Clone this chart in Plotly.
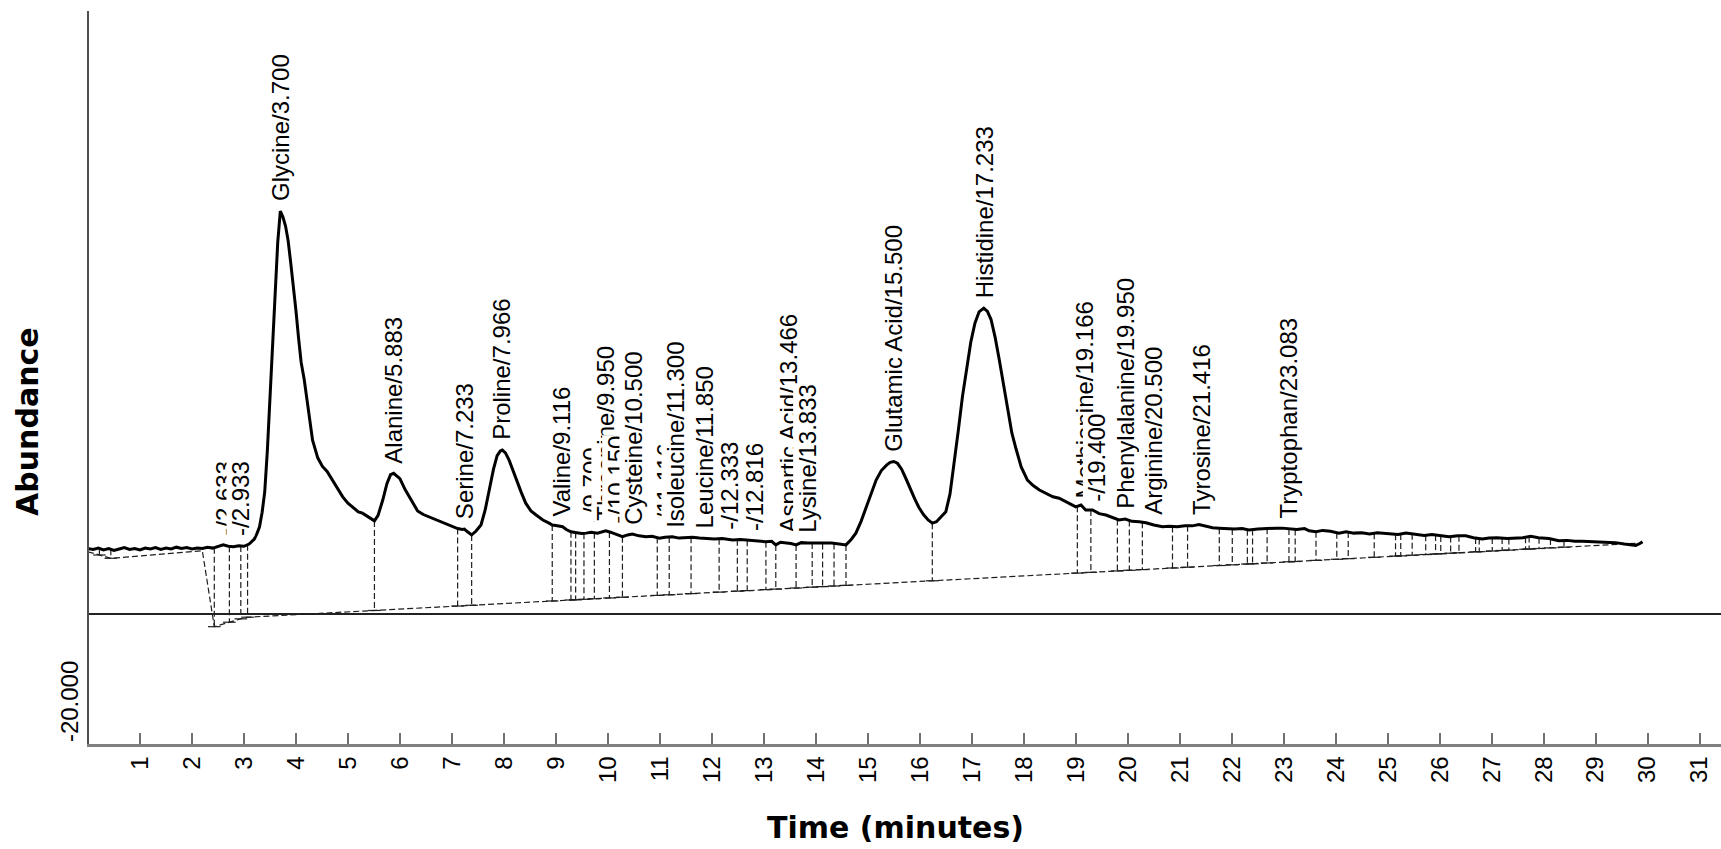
import numpy as np
import plotly.graph_objects as go

# ---- chromatogram trace (retention time in minutes, detector abundance) ----
time_min = [
    0.00, 0.10, 0.20, 0.30, 0.40, 0.50, 0.60, 0.70, 0.80, 0.90,
    1.00, 1.10, 1.20, 1.30, 1.40, 1.50, 1.60, 1.70, 1.80, 1.90,
    2.00, 2.10, 2.20, 2.30, 2.40, 2.50, 2.60, 2.70, 2.80, 2.90,
    3.00, 3.10, 3.20, 3.25, 3.30, 3.35, 3.40, 3.45, 3.50, 3.55,
    3.60, 3.65, 3.70, 3.75, 3.80, 3.85, 3.90, 3.95, 4.00, 4.05,
    4.10, 4.16, 4.22, 4.32, 4.42, 4.51, 4.60, 4.70, 4.80, 4.90,
    5.00, 5.10, 5.20, 5.28, 5.40, 5.51, 5.58, 5.67, 5.75, 5.82,
    5.88, 5.94, 6.00, 6.10, 6.18, 6.26, 6.34, 6.45, 6.56, 6.70,
    6.80, 6.88, 7.00, 7.11, 7.20, 7.24, 7.30, 7.38, 7.46, 7.56,
    7.64, 7.72, 7.80, 7.87, 7.93, 7.97, 8.03, 8.10, 8.17, 8.25,
    8.33, 8.42, 8.52, 8.62, 8.75, 8.87, 8.93, 9.00, 9.13, 9.20,
    9.29, 9.40, 9.50, 9.58, 9.68, 9.80, 9.90, 9.96, 10.05, 10.15,
    10.28, 10.38, 10.47, 10.60, 10.73, 10.85, 10.99, 11.10, 11.24, 11.37,
    11.50, 11.63, 11.76, 11.90, 12.05, 12.20, 12.40, 12.55, 12.70, 12.85,
    13.04, 13.15, 13.23, 13.32, 13.42, 13.52, 13.62, 13.72, 13.85, 14.00,
    14.15, 14.30, 14.45, 14.58, 14.68, 14.77, 14.87, 14.97, 15.06, 15.16,
    15.26, 15.36, 15.43, 15.50, 15.57, 15.65, 15.73, 15.82, 15.90, 15.98,
    16.07, 16.16, 16.24, 16.32, 16.42, 16.50, 16.58, 16.66, 16.74, 16.82,
    16.90, 16.98, 17.06, 17.14, 17.23, 17.30, 17.37, 17.45, 17.53, 17.61,
    17.69, 17.77, 17.85, 17.95, 18.07, 18.18, 18.30, 18.45, 18.56, 18.68,
    18.80, 18.90, 19.00, 19.10, 19.19, 19.32, 19.45, 19.58, 19.70, 19.83,
    19.95, 20.08, 20.22, 20.35, 20.50, 20.67, 20.80, 20.95, 21.10, 21.24,
    21.37, 21.50, 21.63, 21.76, 21.90, 22.05, 22.20, 22.33, 22.50, 22.70,
    22.85, 22.97, 23.10, 23.25, 23.40, 23.49, 23.62, 23.75, 23.90, 24.06,
    24.20, 24.35, 24.50, 24.65, 24.80, 24.90, 25.05, 25.20, 25.35, 25.54,
    25.70, 25.85, 26.00, 26.18, 26.35, 26.50, 26.65, 26.82, 26.95, 27.10,
    27.30, 27.46, 27.60, 27.75, 27.90, 28.10, 28.29, 28.45, 28.60, 28.74,
    28.90, 29.05, 29.20, 29.38, 29.55, 29.70, 29.77, 29.85, 29.90,
]
abundance = [
    14500, 14300, 14600, 14200, 14500, 14100, 14400, 14700, 14300, 14500,
    14200, 14600, 14400, 14700, 14300, 14600, 14400, 14800, 14500, 14700,
    14400, 14600, 14500, 14800, 14600, 14900, 15300, 15000, 14900, 15100,
    15000, 15500, 16600, 17800, 19300, 22500, 27000, 36000, 47000, 58000,
    70000, 82000, 88900, 87600, 85600, 82400, 77500, 72600, 67000, 61000,
    55600, 51700, 47000, 38400, 34500, 32600, 31500, 29600, 27500, 25900,
    24500, 23500, 22600, 22300, 21500, 20600, 21800, 25200, 28800, 30800,
    31100, 30600, 29900, 27500, 25900, 24200, 22800, 22000, 21500, 20800,
    20300, 19900, 19400, 18900, 18700, 18800, 18200, 17500, 18300, 19700,
    23000, 27400, 32000, 35000, 36000, 36200, 35600, 34000, 31800, 29600,
    27000, 24500, 22800, 21900, 20800, 20100, 19700, 19600, 19300, 18700,
    18200, 18000, 17800, 17900, 18100, 17900, 18300, 18400, 18100, 17700,
    17100, 17500, 17700, 17300, 17100, 17200, 16800, 17000, 17100, 16800,
    16900, 17000, 16800, 16700, 16600, 16700, 16400, 16500, 16300, 16200,
    16000, 16100, 15300, 15900, 15800, 15600, 15300, 15800, 15700, 15700,
    15600, 15700, 15500, 15300, 16500, 17900, 20500, 23700, 26800, 29600,
    31700, 32900, 33500, 33700, 33300, 32000, 30000, 27500, 25500, 23600,
    22000, 20800, 20100, 20400, 21600, 22600, 26500, 33000, 40500, 48000,
    54500, 60000, 64200, 66700, 67500, 66800, 65000, 61000, 56000, 50500,
    45000, 40000, 36500, 32500, 29600, 28400, 27400, 26500, 25900, 25600,
    24900, 24200, 23700, 24100, 23000, 23000, 22200, 21900, 21300, 20800,
    21000, 20500, 20400, 20200, 19700, 19300, 19400, 19300, 19500, 19500,
    19800, 19500, 19100, 19000, 18900, 18800, 18900, 18600, 18800, 19000,
    19000, 19000, 18800, 18700, 18900, 18400, 18200, 18500, 18300, 17900,
    18200, 17900, 18000, 17700, 18000, 17900, 17800, 17600, 17900, 17700,
    17400, 17600, 17300, 17100, 17300, 17300, 16900, 16600, 16800, 16900,
    16700, 16800, 16900, 17200, 16900, 16700, 16200, 16300, 16100, 16100,
    16000, 15900, 15800, 15800, 15500, 15200, 15200, 15600, 16000,
]

# ---- integration baseline and peak-boundary drop lines ----
baseline_time = [0.00, 0.44, 2.20, 2.43, 3.04, 29.90]
baseline_abundance = [13800, 12350, 14020, -2730, -660, 15720]

drop_times = [
    0.22, 0.44, 2.43, 2.72, 2.94, 3.07, 5.51, 7.11, 7.38,
    8.93, 9.29, 9.38, 9.54, 9.74, 10.03, 10.28, 10.95, 11.18,
    11.60, 12.14, 12.49, 12.68, 13.04, 13.23, 13.62, 13.93, 14.13,
    14.35, 14.58, 16.24, 19.03, 19.29, 19.80, 20.03, 20.28, 20.86,
    21.15, 21.76, 22.01, 22.30, 22.40, 22.68, 23.10, 23.22, 23.62,
    24.02, 24.24, 24.74, 25.15, 25.25, 25.47, 25.73, 25.92, 26.02,
    26.21, 26.37, 26.69, 26.76, 27.01, 27.20, 27.33, 27.65, 27.72,
    27.91, 28.13, 28.39,
]

# ---- identified peaks ----
peak_names = [
    "-", "-", "Glycine", "Alanine", "Serine", "Proline", "Valine", "-",
    "Threonine", "-", "Cysteine", "-", "Isoleucine", "Leucine", "-", "-",
    "Aspartic Acid", "Lysine", "Glutamic Acid", "Histidine", "Methionine",
    "-", "Phenylalanine", "Arginine", "Tyrosine", "Tryptophan",
]
peak_times = [
    2.633, 2.933, 3.700, 5.883, 7.233, 7.966, 9.116, 9.700,
    9.950, 10.150, 10.500, 11.116, 11.300, 11.850, 12.333, 12.816,
    13.466, 13.833, 15.500, 17.233, 19.166,
    19.400, 19.950, 20.500, 21.416, 23.083,
]

x_tick_vals = list(range(1, 32))
y_tick_vals = [-20000]
y_tick_text = ["-20.000"]

# ---- page geometry ----
W, H = 1721, 849
ML, MR, MT, MB = 89, 0, 11, 105
PW, PH = W - ML - MR, H - MT - MB
X_RANGE = [0.02, 31.41]
Y_RANGE = [-28600, 133030]

LABEL_FONT = dict(family="Liberation Sans, Arial, sans-serif", size=24, color="#000000")
TITLE_FONT = dict(family="DejaVu Sans, sans-serif", size=30,
                  color="#000000", weight="bold")
DASH = dict(color="#1e1e1e", width=1.2, dash="6px,3px")

t_arr = np.array(time_min, dtype=float)
a_arr = np.array(abundance, dtype=float)


def curve_at(t):
    return float(np.interp(t, t_arr, a_arr))


def base_at(t):
    return float(np.interp(t, baseline_time, baseline_abundance))


fig = go.Figure()

# drop lines from the trace down to the baseline
dx, dy = [], []
for t in drop_times:
    dx += [t, t, None]
    dy += [curve_at(t), base_at(t), None]
fig.add_trace(go.Scatter(x=dx, y=dy, mode="lines", line=DASH,
                         hoverinfo="skip", showlegend=False))

# integration baseline
fig.add_trace(go.Scatter(x=baseline_time, y=baseline_abundance, mode="lines",
                         line=DASH, hoverinfo="skip", showlegend=False))

# small cross marks where the drop lines meet the baseline
fig.add_trace(go.Scatter(
    x=drop_times, y=[base_at(t) for t in drop_times], mode="markers",
    marker=dict(symbol="line-ew", size=9, line=dict(width=1.2, color="#1e1e1e")),
    hoverinfo="skip", showlegend=False))

# chromatogram
fig.add_trace(go.Scatter(x=time_min, y=abundance, mode="lines",
                         line=dict(color="#000000", width=3),
                         showlegend=False))

annotations = []
for name, t in zip(peak_names, peak_times):
    annotations.append(dict(
        x=t, y=curve_at(t), xref="x", yref="y",
        text=f"{name}/{t:.3f}", showarrow=False, textangle=-90,
        xanchor="center", yanchor="bottom", yshift=9,
        bgcolor="#ffffff", borderpad=0, font=LABEL_FONT,
    ))

# axis titles
annotations.append(dict(
    text="Abundance", textangle=-90, showarrow=False, font=TITLE_FONT,
    xref="paper", yref="paper",
    x=(27 - ML) / PW, y=(MT + PH - 422) / PH, xanchor="center", yanchor="middle",
))
annotations.append(dict(
    text="Time (minutes)", showarrow=False, font=TITLE_FONT,
    xref="paper", yref="paper",
    x=(895 - ML) / PW, y=(MT + PH - 827) / PH, xanchor="center", yanchor="middle",
))

fig.update_layout(
    width=W, height=H,
    margin=dict(l=ML, r=MR, t=MT, b=MB, pad=0),
    paper_bgcolor="#ffffff", plot_bgcolor="#ffffff",
    font=LABEL_FONT,
    annotations=annotations,
    showlegend=False,
)
fig.update_xaxes(
    range=X_RANGE, showgrid=False, zeroline=False,
    showline=True, linecolor="#808080", linewidth=2.5,
    ticks="inside", ticklen=11, tickwidth=1.5, tickcolor="#707070",
    tickvals=x_tick_vals, ticktext=[str(v) for v in x_tick_vals],
    tickangle=-90, tickfont=LABEL_FONT,
)
fig.update_yaxes(
    range=Y_RANGE, showgrid=False,
    zeroline=True, zerolinecolor="#222222", zerolinewidth=1.5,
    showline=True, linecolor="#505050", linewidth=1.5,
    ticks="", tickvals=y_tick_vals, ticktext=y_tick_text,
    tickangle=-90, tickfont=LABEL_FONT,
)

fig.write_html("out.html")
